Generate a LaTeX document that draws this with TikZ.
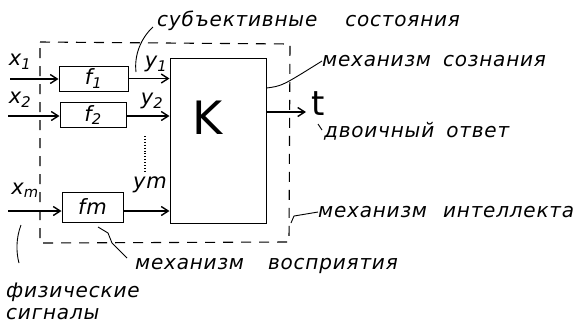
\documentclass[tikz,border=0pt]{standalone}
\usepackage{fontspec}
\setmainfont{DejaVu Sans}
\newfontfamily\hand{DejaVu Sans}[LetterSpace=4]
\usetikzlibrary{arrows.meta}
\begin{document}
\begin{tikzpicture}[x=1pt,y=-1pt,
  block/.style={draw, line width=1pt, inner sep=0pt},
  sig/.style={-{Straight Barb[length=7pt,width=9pt,line width=1.4pt]}, line width=1.8pt},
  frame/.style={line width=1.1pt, dash pattern=on 10pt off 8pt},
  lead/.style={line width=0.9pt},
  note/.style={font=\hand\itshape\fontsize{20}{22}\selectfont, inner sep=0pt, anchor=west},
  sym/.style={font=\hand\itshape\fontsize{21}{23}\selectfont, inner sep=0pt}]
\useasboundingbox (0,0) rectangle (586,327);

% perception blocks and the decision block
\node[block, minimum width=69pt, minimum height=25pt] (f1) at (93.5,78.5) {};
\node[block, minimum width=66pt, minimum height=25pt] (f2) at (93,115) {};
\node[block, minimum width=61pt, minimum height=30pt] (fm) at (92.5,207) {};
\node[block, minimum width=96pt, minimum height=165pt] (K) at (218,140.5) {};

\node[sym] at (f1) {f\textsubscript{1}};
\node[sym] at (f2) {f\textsubscript{2}};
\node[sym] at (fm) {fm};
\node[font=\hand\fontsize{46}{48}\selectfont, inner sep=0pt] (Klab) at (208,118) {K};

% inputs
\coordinate (in1) at (10,79);
\coordinate (in2) at (8,116);
\coordinate (inm) at (8,211);
\draw[sig] (in1) -- (in1 -| f1.west);
\draw[sig] (in2) -- (in2 -| f2.west);
\draw[sig] (inm) -- (inm -| fm.west);

% outputs of the blocks into K
\draw[sig] (f1.east) -- (f1.east -| K.west);
\draw[sig] (f2.east |- in2) -- (in2 -| K.west);
\draw[sig] (fm.east |- inm) -- (inm -| K.west);

% binary answer
\coordinate (tpt) at (306,112);
\draw[sig] (K.east |- tpt) -- (tpt);
\node[font=\hand\fontsize{34}{36}\selectfont, inner sep=0pt] (t) at (318,104) {t};

% signal labels
\node[sym] (x1) at (20,62) {x\textsubscript{1}};
\node[sym] (x2) at (20,100) {x\textsubscript{2}};
\node[sym] (xm) at (25,190) {x\textsubscript{m}};
\node[sym] (y1) at (156,64) {y\textsubscript{1}};
\node[sym] (y2) at (152,101) {y\textsubscript{2}};
\node[sym] (ym) at (150,185) {ym};
\draw[lead, dotted, line width=1.1pt] (145,136) -- (145,172);

% dashed boundary of the subject
\draw[frame] (40,42) -- (290,44) -- (289,242) -- (40,243) -- cycle;

% annotations
\node[note] (subj) at (157,21) {субъективные\hspace{1.4em}состояния};
\draw[lead] (153,27) .. controls (141,38) and (134,55) .. (136,72);

\node[note] (cons) at (322,61) {механизм\hspace{0.6em}сознания};
\draw[lead] (K.east |- 0,88) .. controls (282,86) .. (cons.west);

\node[note] (bin) at (324,131) {двоичный\hspace{0.6em}ответ};
\draw[lead] (318,124) -- (322,130);

\node[note] (intel) at (318,212) {механизм\hspace{0.8em}интеллекта};
\draw[lead] (291,223) -- (294,216) -- (intel.west);

\node[note] (perc) at (135,266) {механизм\hspace{1.2em}восприятия};
\draw[lead] (98,227) -- (108,233) -- (112,243) -- (127,258);

\node[note] (phys1) at (6,292) {физические};
\node[note] (phys2) at (6,314) {сигналы};
\draw[lead] (21,225) .. controls (16,238) and (16,252) .. (19,263);
\end{tikzpicture}
\end{document}
